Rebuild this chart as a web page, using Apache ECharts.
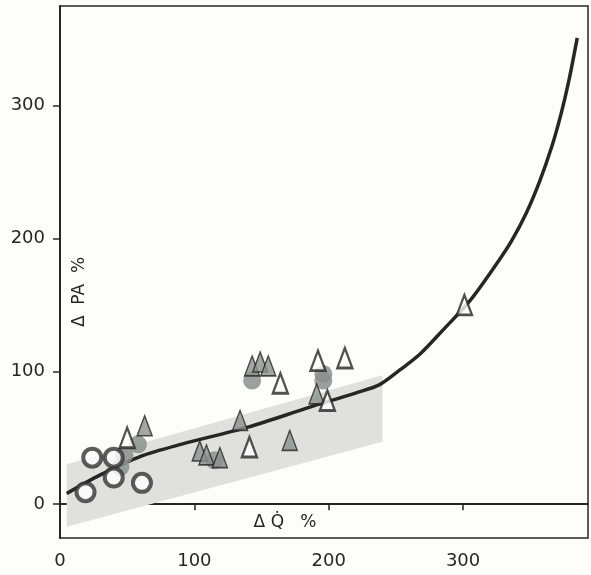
<!DOCTYPE html>
<html lang="en">
<head>
    <meta charset="utf-8">
    <title>ΔPA vs ΔQ</title>
    <script src="https://cdn.jsdelivr.net/npm/echarts@6/dist/echarts.min.js"></script>
    <style>
        html, body { margin: 0; padding: 0; background: #fdfdfb; }
    </style>
</head>
<body>
<div id="main" style="width: 591px;height:575px;"></div>

<script type="text/javascript">
    // values (x = ΔQ %, y = ΔPA %)
    var xTicks = [0, 100, 200, 300];
    var yTicks = [0, 100, 200, 300];

    var curvePoints = [
        [5, 8], [30, 22], [60, 36], [90, 45], [140, 58], [186, 73], [221, 84],
        [238, 90], [253, 101], [268, 113], [285, 131], [305, 153], [325, 181],
        [336, 198], [347, 219], [357, 243], [366, 269], [373, 294], [379, 320],
        [385, 351]
    ];

    var bandPolygon = [[5, 30], [240, 97], [240, 47], [5, -17]];

    var circlePoints = [[24, 35], [40, 35], [40, 20], [19, 9], [61, 16]];

    var openTriangles = [[141, 43], [192, 108], [212, 110], [199, 78], [301, 150], [50, 50], [164, 91]];

    var greyTriangles = [[63, 59], [104, 40], [109, 37], [119, 35], [134, 63], [143, 104],
        [149, 107], [155, 104], [191, 83], [171, 48]];

    var greyBlobs = [[48, 37], [58, 45], [45, 28], [143, 93], [196, 93], [196, 98], [115, 33]];

    var myChart = echarts.init(document.getElementById('main'));
    var ink = '#262626';
    var grey = '#8a918d';
    var font = 'DejaVu Sans';

    option = {
        backgroundColor: '#fdfdfb',
        animation: false,
        grid: {left: 60, right: 3, top: 6, bottom: 37, show: true, borderColor: ink, borderWidth: 1.5},
        xAxis: {
            type: 'value', min: 0, max: 393,
            splitLine: {show: false},
            axisLine: {lineStyle: {color: ink, width: 2}},
            axisTick: {customValues: [100, 200, 300], length: 6, lineStyle: {color: ink, width: 1.5}},
            axisLabel: {customValues: xTicks, color: ink, fontSize: 18, fontFamily: font, margin: 14}
        },
        yAxis: {
            type: 'value', min: -25.5, max: 375,
            splitLine: {show: false},
            axisLine: {lineStyle: {color: ink, width: 2}},
            axisTick: {customValues: yTicks, length: 7, lineStyle: {color: ink, width: 1.5}},
            axisLabel: {customValues: yTicks, color: ink, fontSize: 18, fontFamily: font, margin: 15}
        },
        graphic: [
            {type: 'text', x: 80, y: 292, rotation: Math.PI / 2,
                style: {text: 'Δ  PA  %', font: '17px DejaVu Sans', fill: ink, align: 'center', verticalAlign: 'middle'}},
            {type: 'text', x: 285, y: 523,
                style: {text: 'Δ Q\u0307   %', font: '17px DejaVu Sans', fill: ink, align: 'center', verticalAlign: 'middle'}}
        ],
        series: [
            {
                type: 'custom',
                z: 1,
                data: bandPolygon,
                renderItem: function (params, api) {
                    if (params.dataIndex !== 0) return;
                    var pts = bandPolygon.map(function (p) { return api.coord(p); });
                    return {type: 'polygon', shape: {points: pts}, style: {fill: '#e0e0de'}};
                }
            },
            {
                type: 'line', z: 2, smooth: 0.3, symbol: 'none',
                data: curvePoints,
                lineStyle: {color: ink, width: 3.5}
            },
            {
                type: 'scatter', z: 3, symbol: 'circle', symbolSize: 18,
                data: greyBlobs,
                itemStyle: {color: grey, opacity: 0.85}
            },
            {
                type: 'scatter', z: 4, symbol: 'triangle', symbolSize: [15, 20],
                data: greyTriangles,
                itemStyle: {color: grey, borderColor: ink, borderWidth: 1.5}
            },
            {
                type: 'scatter', z: 4, symbol: 'triangle', symbolSize: [15, 20],
                data: openTriangles,
                itemStyle: {color: '#ffffff', borderColor: ink, borderWidth: 2.5}
            },
            {
                type: 'scatter', z: 5, symbol: 'circle', symbolSize: 18,
                data: circlePoints,
                itemStyle: {color: '#ffffff', borderColor: '#333333', borderWidth: 4}
            }
        ]
    };

    myChart.setOption(option);
</script>

</body>
</html>
